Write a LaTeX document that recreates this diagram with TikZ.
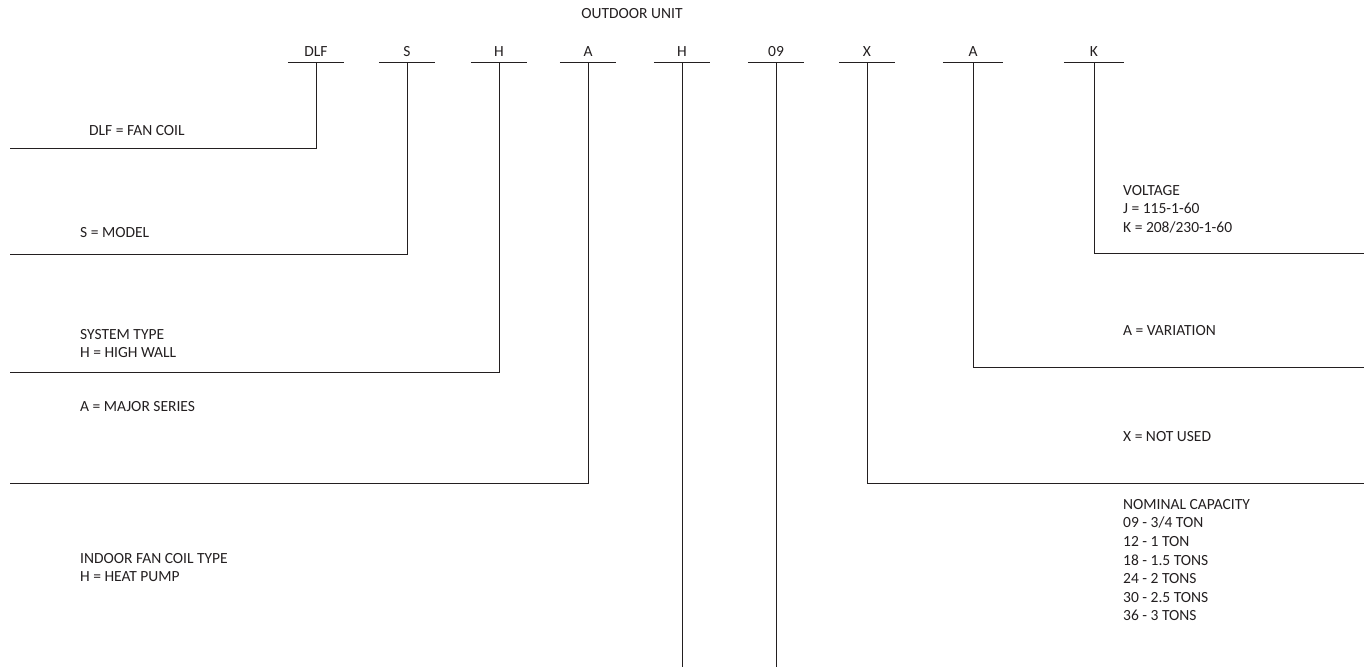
\documentclass[tikz,border=0pt]{standalone}
\usepackage{fontspec}
\setmainfont{Carlito}
\usetikzlibrary{positioning}
\definecolor{inkgray}{RGB}{35,31,32}

\begin{document}
\begin{tikzpicture}[x=1pt, y=-1pt,
    code/.style={minimum width=56pt, inner xsep=0pt, inner ysep=5pt, text height=10pt, text depth=0pt, anchor=south, text=inkgray, font=\fontsize{15.5}{16}\selectfont},
    legend/.style={anchor=north west, align=left, inner sep=0pt, text=inkgray, font=\fontsize{15.5}{18.6}\selectfont},
    bar/.style={line width=1pt, draw=inkgray},
    lead/.style={line width=1pt, draw=inkgray}
  ]
  \useasboundingbox (0,0) rectangle (1364,667);

  \node[code, minimum width=0pt] (outdoor) at (632,24) {OUTDOOR UNIT};

  % code letters with their bars
  \node[code] (dlf) at (316,62) {DLF};
  \node[code] (model) at (407,62) {S};
  \node[code] (systype) at (499,62) {H};
  \node[code] (series) at (588,62) {A};
  \node[code] (coiltype) at (682,62) {H};
  \node[code] (capacity) at (776,62) {09};
  \node[code] (notused) at (867,62) {X};
  \node[code, minimum width=60pt] (variation) at (973,62) {A};
  \node[code, minimum width=60pt] (voltage) at (1094,62) {K};
  \foreach \c in {dlf,model,systype,series,coiltype,capacity,notused,variation,voltage}
    \draw[bar] (\c.south west) -- (\c.south east);

  % legend texts
  \node[legend] (dlftext) at (89,125) {DLF = FAN COIL};
  \node[legend] (modeltext) at (80,227) {S = MODEL};
  \node[legend] (systypetext) at (80,329) {SYSTEM TYPE\\H = HIGH WALL};
  \node[legend] (seriestext) at (80,401) {A = MAJOR SERIES};
  \node[legend] (coiltypetext) at (80,553) {INDOOR FAN COIL TYPE\\H = HEAT PUMP};
  \node[legend] (voltagetext) at (1123,185) {VOLTAGE\\J = 115-1-60\\K = 208/230-1-60};
  \node[legend] (variationtext) at (1123,325) {A = VARIATION};
  \node[legend] (notusedtext) at (1123,431) {X = NOT USED};
  \node[legend] (capacitytext) at (1123,499) {NOMINAL CAPACITY\\09 - 3/4 TON\\12 - 1 TON\\18 - 1.5 TONS\\24 - 2 TONS\\30 - 2.5 TONS\\36 - 3 TONS};

  % free ends of the leaders
  \coordinate (dlfend) at (10,148);
  \coordinate (modelend) at (10,254);
  \coordinate (systypeend) at (10,372);
  \coordinate (seriesend) at (10,483);
  \coordinate (coiltypeend) at (682,667);
  \coordinate (capacityend) at (776,667);
  \coordinate (notusedend) at (1364,483);
  \coordinate (variationend) at (1364,367);
  \coordinate (voltageend) at (1364,253);

  \draw[lead] (dlf.south) |- (dlfend);
  \draw[lead] (model.south) |- (modelend);
  \draw[lead] (systype.south) |- (systypeend);
  \draw[lead] (series.south) |- (seriesend);
  \draw[lead] (coiltype.south) -- (coiltypeend);
  \draw[lead] (capacity.south) -- (capacityend);
  \draw[lead] (notused.south) |- (notusedend);
  \draw[lead] (variation.south) |- (variationend);
  \draw[lead] (voltage.south) |- (voltageend);
\end{tikzpicture}
\end{document}
